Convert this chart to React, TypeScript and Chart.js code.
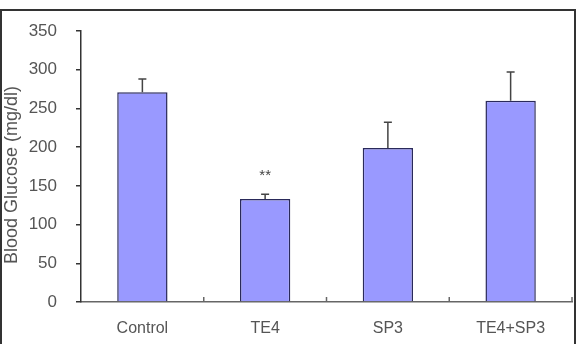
import React, { useEffect, useRef } from "react";
import { Chart, registerables } from "chart.js";

Chart.register(...registerables);

const categories = ["Control", "TE4", "SP3", "TE4+SP3"];
const glucoseMean = [271, 133, 199, 260];
const glucoseSD = [17, 6, 33, 37];
const significance = ["", "**", "", ""];
const yTicks = [0, 50, 100, 150, 200, 250, 300, 350];

const FONT = "'Liberation Sans', Arial, sans-serif";

// Outer frame around the figure
const framePlugin = {
  id: "frame",
  beforeDraw(chart: any) {
    const ctx = chart.ctx;
    ctx.save();
    ctx.fillStyle = "#ffffff";
    ctx.fillRect(0, 0, chart.width, chart.height);
    ctx.strokeStyle = "#333333";
    ctx.lineWidth = 2;
    ctx.strokeRect(1, 10, 574, 400);
    ctx.restore();
  },
};

// Upward tick marks between categories on the x axis, plus the y-axis title
const axisExtrasPlugin = {
  id: "axisExtras",
  afterDraw(chart: any) {
    const ctx = chart.ctx;
    const x = chart.scales.x;
    const area = chart.chartArea;
    ctx.save();
    ctx.strokeStyle = "#666666";
    ctx.lineWidth = 1.5;
    for (let i = 1; i <= categories.length; i++) {
      const px = x.getPixelForValue(i - 0.5);
      ctx.beginPath();
      ctx.moveTo(px, area.bottom);
      ctx.lineTo(px, area.bottom - 5);
      ctx.stroke();
    }
    ctx.fillStyle = "#555555";
    ctx.font = `18px ${FONT}`;
    ctx.textAlign = "center";
    ctx.textBaseline = "middle";
    ctx.translate(12, 175);
    ctx.rotate(-Math.PI / 2);
    ctx.fillText("Blood Glucose (mg/dl)", 0, 0);
    ctx.restore();
  },
};

// Standard-deviation whiskers and significance markers
const errorBarPlugin = {
  id: "errorBars",
  afterDatasetsDraw(chart: any) {
    const ctx = chart.ctx;
    const y = chart.scales.y;
    const meta = chart.getDatasetMeta(0);
    ctx.save();
    ctx.strokeStyle = "#444444";
    ctx.lineWidth = 1.5;
    meta.data.forEach((bar: any, i: number) => {
      const top = y.getPixelForValue(glucoseMean[i]);
      const end = y.getPixelForValue(glucoseMean[i] + glucoseSD[i]);
      ctx.beginPath();
      ctx.moveTo(bar.x, top);
      ctx.lineTo(bar.x, end);
      ctx.moveTo(bar.x - 4, end);
      ctx.lineTo(bar.x + 4, end);
      ctx.stroke();
      if (significance[i]) {
        ctx.fillStyle = "#444444";
        ctx.font = `15px ${FONT}`;
        ctx.textAlign = "center";
        ctx.textBaseline = "middle";
        ctx.fillText(significance[i], bar.x, end - 19);
      }
    });
    ctx.restore();
  },
};

export default function App() {
  const ref = useRef<HTMLCanvasElement>(null);

  useEffect(() => {
    document.body.style.margin = "0";
    const chart = new Chart(ref.current!, {
      type: "bar",
      data: {
        labels: categories,
        datasets: [
          {
            data: glucoseMean,
            backgroundColor: "#9999ff",
            borderColor: "#2a2a5a",
            borderWidth: 1.5,
            categoryPercentage: 0.41,
            barPercentage: 1,
          },
        ],
      },
      options: {
        animation: false,
        responsive: false,
        layout: { padding: { top: 31, right: 8, left: 0, bottom: 0 } },
        plugins: {
          legend: { display: false },
          tooltip: { enabled: false },
        },
        scales: {
          x: {
            grid: { display: false, drawTicks: false },
            border: { display: true, color: "#666666", width: 1.5 },
            ticks: {
              color: "#555555",
              font: { family: FONT, size: 16 },
              padding: 17,
            },
            afterFit(scale: any) {
              scale.height = 42;
            },
          },
          y: {
            min: 0,
            max: 350,
            afterBuildTicks(scale: any) {
              scale.ticks = yTicks.map((v) => ({ value: v }));
            },
            grid: {
              drawOnChartArea: false,
              drawTicks: true,
              tickLength: 5,
              color: "#333333",
              lineWidth: 1.5,
            },
            border: { display: true, color: "#333333", width: 1.5 },
            ticks: {
              color: "#555555",
              font: { family: FONT, size: 17 },
              padding: 19,
            },
            afterFit(scale: any) {
              scale.width = 81;
            },
          },
        },
      },
      plugins: [framePlugin, axisExtrasPlugin, errorBarPlugin],
    });
    return () => chart.destroy();
  }, []);

  return (
    <div style={{ position: "absolute", left: 0, top: 0, width: 580, height: 344 }}>
      <canvas ref={ref} width={580} height={344} />
    </div>
  );
}
